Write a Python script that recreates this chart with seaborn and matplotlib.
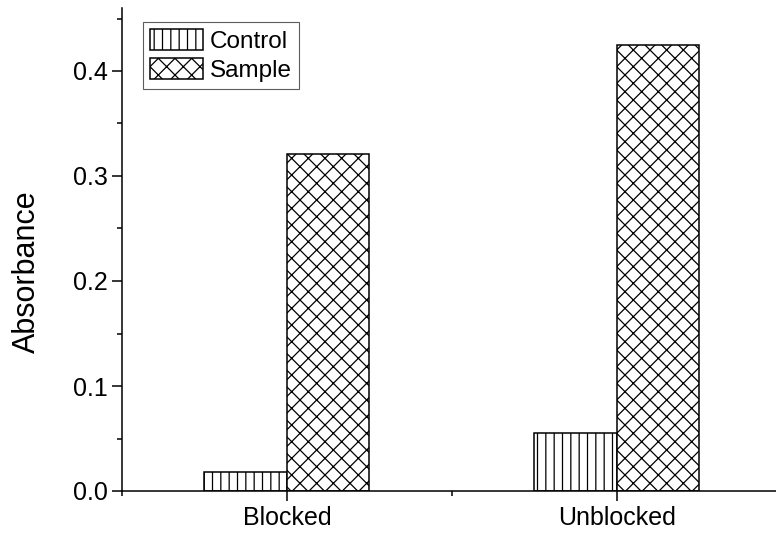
import matplotlib
matplotlib.use("Agg")
import matplotlib.pyplot as plt
from matplotlib.patches import Patch
from matplotlib.ticker import MultipleLocator, FixedLocator
import seaborn as sns
import pandas as pd

# Absorbance readings per condition
conditions = ["Blocked", "Unblocked"]
control_values = [0.018, 0.055]
sample_values = [0.321, 0.425]
groups = ["Control", "Sample"]
hatches = {"Control": "||", "Sample": "xx"}

df = pd.DataFrame({
    "Condition": conditions * 2,
    "Group": [groups[0]] * len(conditions) + [groups[1]] * len(conditions),
    "Absorbance": control_values + sample_values,
})

sns.set_theme(style="ticks")
plt.rcParams["font.family"] = ["Liberation Sans", "DejaVu Sans"]
plt.rcParams["text.color"] = "black"
plt.rcParams["hatch.linewidth"] = 0.9

W, H = 776, 537
fig = plt.figure(figsize=(W / 100, H / 100), dpi=100)
left, right, top, bottom = 122, 776, 8, 491
ax = fig.add_axes([left / W, 1 - bottom / H, (right - left) / W, (bottom - top) / H])

sns.barplot(
    data=df, x="Condition", y="Absorbance", hue="Group", hue_order=groups,
    order=conditions, palette={"Control": "white", "Sample": "white"},
    saturation=1, width=0.5, edgecolor="black", linewidth=1.1,
    legend=False, ax=ax,
)

for container, grp in zip(ax.containers, groups):
    for bar in container:
        bar.set_hatch(hatches[grp])

ax.set_xlim(-0.5, 1.482)
ax.set_ylim(0, 0.46)
ax.set_xlabel("")
ax.set_ylabel("")

for side in ("top", "right"):
    ax.spines[side].set_visible(False)
for side in ("left", "bottom"):
    ax.spines[side].set_linewidth(1.1)
    ax.spines[side].set_color("black")

ax.yaxis.set_major_locator(MultipleLocator(0.1))
ax.yaxis.set_minor_locator(MultipleLocator(0.05))
ax.yaxis.set_major_formatter(matplotlib.ticker.FormatStrFormatter("%.1f"))
ax.xaxis.set_minor_locator(FixedLocator([-0.5, 0.5, 1.5]))
ax.tick_params(axis="both", which="major", direction="out", length=7.5,
               width=1.1, color="black", labelsize=18, labelcolor="black", pad=3)
ax.tick_params(axis="both", which="minor", direction="out", length=3.8,
               width=1.1, color="black")

fig.text(27 / W, 1 - 272 / H, "Absorbance", rotation=90, ha="center",
         va="center", fontsize=22, color="black")

handles = [Patch(facecolor="white", edgecolor="black", linewidth=1.1,
                 hatch=hatches[g], label=g) for g in groups]
leg = ax.legend(
    handles=handles, loc="upper left",
    bbox_to_anchor=(21 / (right - left), 1 - 14 / (bottom - top)),
    borderaxespad=0, fontsize=17.5, frameon=True, fancybox=False,
    handlelength=2.15, handleheight=0.95, handletextpad=0.3,
    labelspacing=0.2, borderpad=0.3,
)
leg.get_frame().set_edgecolor("#333333")
leg.get_frame().set_linewidth(0.8)
for t in leg.get_texts():
    t.set_color("black")

fig.savefig("out.png", dpi=100)
